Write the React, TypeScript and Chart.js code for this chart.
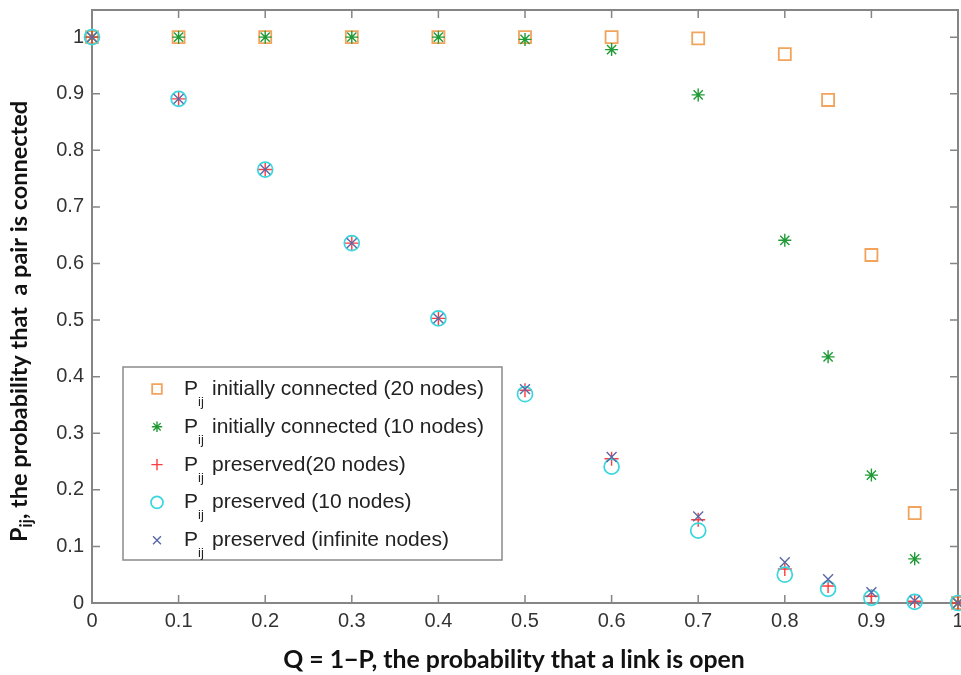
import React, { useEffect, useRef } from "react";
import { Chart, registerables } from "chart.js";
import { drawPoint } from "chart.js/helpers";

Chart.register(...registerables);

// ---------- data ----------
const qValues = [0, 0.1, 0.2, 0.3, 0.4, 0.5, 0.6, 0.7, 0.8, 0.85, 0.9, 0.95, 1];
const init20 = [1, 1, 1, 1, 1, 1, 1.0, 0.998, 0.97, 0.889, 0.615, 0.159, 0];
const init10 = [1, 1, 1, 1, 1, 0.996, 0.978, 0.898, 0.641, 0.435, 0.226, 0.078, 0];
const pres20 = [1, 0.891, 0.766, 0.636, 0.503, 0.376, 0.255, 0.147, 0.06, 0.03, 0.012, 0.003, 0];
const pres10 = [1, 0.891, 0.766, 0.636, 0.503, 0.369, 0.241, 0.128, 0.05, 0.025, 0.009, 0.002, 0];
const presInf = [1, 0.891, 0.766, 0.636, 0.503, 0.378, 0.258, 0.153, 0.072, 0.042, 0.019, 0.004, 0];

const xTicks = [0, 0.1, 0.2, 0.3, 0.4, 0.5, 0.6, 0.7, 0.8, 0.9, 1];
const yTicks = [0, 0.1, 0.2, 0.3, 0.4, 0.5, 0.6, 0.7, 0.8, 0.9, 1];

const legendLabels = [
  "initially connected (20 nodes)",
  "initially connected (10 nodes)",
  "preserved(20 nodes)",
  "preserved (10 nodes)",
  "preserved (infinite nodes)",
];
const xTitle = "Q = 1\u2212P, the probability that a link is open";
const yTitleMain = "P";
const yTitleSub = "ij";
const yTitleRest = ", the probability that  a pair is connected";

// ---------- styles ----------
const seriesStyles = [
  { color: "#f2a35c", style: "rect", radius: 8.5, width: 1.8, order: 4 },
  { color: "#1f9a35", style: "star", radius: 6.5, width: 1.4, order: 3 },
  { color: "#ff3b3b", style: "cross", radius: 7, width: 1.4, order: 2 },
  { color: "#3ad6de", style: "circle", radius: 7.5, width: 1.7, order: 1 },
  { color: "#5a68a6", style: "crossRot", radius: 7, width: 1.4, order: 0 },
];
const seriesValues = [init20, init10, pres20, pres10, presInf];

const tickFont = "Liberation Sans, Arial, sans-serif";
const titleFont = "Lato, 'Open Sans', sans-serif";

const fmt = (v: number) => String(Number(v.toFixed(2)));

const framePlugin = {
  id: "frameTicks",
  beforeDatasetsDraw(chart: any) {
    const { ctx, chartArea: a, scales } = chart;
    ctx.save();
    ctx.strokeStyle = "#858585";
    ctx.lineWidth = 1.5;
    const len = 8;
    ctx.beginPath();
    xTicks.forEach((v) => {
      const x = scales.x.getPixelForValue(v);
      ctx.moveTo(x, a.bottom);
      ctx.lineTo(x, a.bottom - len);
      ctx.moveTo(x, a.top);
      ctx.lineTo(x, a.top + len);
    });
    yTicks.forEach((v) => {
      const y = scales.y.getPixelForValue(v);
      ctx.moveTo(a.left, y);
      ctx.lineTo(a.left + len, y);
      ctx.moveTo(a.right, y);
      ctx.lineTo(a.right - len, y);
    });
    ctx.stroke();
    ctx.lineWidth = 2;
    ctx.strokeRect(a.left, a.top, a.right - a.left, a.bottom - a.top);
    ctx.restore();
  },
};

const legendPlugin = {
  id: "customLegend",
  afterDatasetsDraw(chart: any) {
    const { ctx, chartArea: a } = chart;
    const left = a.left + 31;
    const top = a.top + 357;
    const w = 379;
    const h = 193;
    ctx.save();
    ctx.fillStyle = "#ffffff";
    ctx.fillRect(left, top, w, h);
    ctx.strokeStyle = "#8a8a8a";
    ctx.lineWidth = 1.5;
    ctx.strokeRect(left, top, w, h);
    legendLabels.forEach((label, i) => {
      const cy = top + 22 + i * 37.8;
      const s = seriesStyles[i];
      ctx.strokeStyle = s.color;
      ctx.fillStyle = "rgba(0,0,0,0)";
      ctx.lineWidth = s.width;
      drawPoint(ctx, { pointStyle: s.style, radius: s.radius * 0.8, borderWidth: s.width, rotation: 0 } as any, left + 34, cy);
      ctx.fillStyle = "#222";
      ctx.textBaseline = "alphabetic";
      ctx.textAlign = "left";
      ctx.font = `21px ${tickFont}`;
      const baseY = cy + 6;
      ctx.fillText("P", left + 61, baseY);
      const pw = ctx.measureText("P").width;
      ctx.font = `13px ${tickFont}`;
      ctx.fillText("ij", left + 61 + pw, baseY + 11);
      ctx.font = `21px ${tickFont}`;
      ctx.fillText(label, left + 89, baseY);
    });
    ctx.restore();
  },
};

function fitFont(ctx: CanvasRenderingContext2D, text: string, target: number, base: number) {
  ctx.font = `bold ${base}px ${titleFont}`;
  const w = ctx.measureText(text).width;
  return Math.max(12, Math.min(26, (base * target) / w));
}

const titlePlugin = {
  id: "axisTitles",
  afterDraw(chart: any) {
    const { ctx, chartArea: a } = chart;
    ctx.save();
    ctx.fillStyle = "#111";
    ctx.textBaseline = "alphabetic";
    // x title
    const xs = fitFont(ctx, xTitle, 462, 20);
    ctx.font = `bold ${xs}px ${titleFont}`;
    ctx.textAlign = "center";
    ctx.fillText(xTitle, 514, a.bottom + 65);
    // y title (rotated)
    const ys = fitFont(ctx, yTitleMain + yTitleSub + yTitleRest, 445, 20);
    ctx.translate(27, a.bottom - 61);
    ctx.rotate(-Math.PI / 2);
    ctx.textAlign = "left";
    ctx.font = `bold ${ys}px ${titleFont}`;
    ctx.fillText(yTitleMain, 0, 0);
    let off = ctx.measureText(yTitleMain).width;
    ctx.font = `bold ${ys * 0.7}px ${titleFont}`;
    ctx.fillText(yTitleSub, off, 5);
    off += ctx.measureText(yTitleSub).width;
    ctx.font = `bold ${ys}px ${titleFont}`;
    ctx.fillText(yTitleRest, off, 0);
    ctx.restore();
  },
};

export default function App() {
  const ref = useRef<HTMLCanvasElement>(null);
  useEffect(() => {
    const canvas = ref.current;
    if (!canvas) return;
    const chart = new Chart(canvas, {
      type: "scatter",
      data: {
        datasets: seriesValues.map((vals, i) => ({
          label: legendLabels[i],
          data: vals.map((y, j) => ({ x: qValues[j], y })),
          pointStyle: seriesStyles[i].style as any,
          pointRadius: seriesStyles[i].radius,
          pointHoverRadius: seriesStyles[i].radius,
          borderColor: seriesStyles[i].color,
          backgroundColor: "rgba(0,0,0,0)",
          pointBorderWidth: seriesStyles[i].width,
          borderWidth: seriesStyles[i].width,
          showLine: false,
          clip: false as any,
          order: seriesStyles[i].order,
        })),
      },
      options: {
        responsive: false,
        animation: false,
        devicePixelRatio: 1,
        events: [],
        layout: { autoPadding: false, padding: { top: 10, right: 3, left: 0, bottom: 0 } },
        plugins: {
          legend: { display: false },
          tooltip: { enabled: false },
        },
        scales: {
          x: {
            type: "linear",
            min: 0,
            max: 1,
            grid: { display: false, drawTicks: false },
            border: { display: false },
            ticks: {
              padding: 6,
              color: "#333",
              font: { size: 20, family: tickFont },
              callback: (v: any) => fmt(Number(v)),
              maxRotation: 0,
              autoSkip: false,
            },
            afterBuildTicks: (s: any) => {
              s.ticks = xTicks.map((v) => ({ value: v }));
            },
            afterFit: (s: any) => {
              s.height = 72;
              s.paddingLeft = 0;
              s.paddingRight = 0;
            },
          },
          y: {
            type: "linear",
            min: 0,
            max: 1.048,
            grid: { display: false, drawTicks: false },
            border: { display: false },
            ticks: {
              padding: 8,
              color: "#333",
              font: { size: 20, family: tickFont },
              callback: (v: any) => fmt(Number(v)),
              autoSkip: false,
            },
            afterBuildTicks: (s: any) => {
              s.ticks = yTicks.map((v) => ({ value: v }));
            },
            afterFit: (s: any) => {
              s.width = 92;
              s.paddingTop = 0;
              s.paddingBottom = 0;
            },
          },
        },
      },
      plugins: [framePlugin, legendPlugin, titlePlugin],
    });
    return () => chart.destroy();
  }, []);
  return (
    <div style={{ position: "fixed", left: 0, top: 0, width: 961, height: 675, background: "#fff" }}>
      <canvas ref={ref} width={961} height={675} style={{ display: "block", width: 961, height: 675 }} />
    </div>
  );
}
